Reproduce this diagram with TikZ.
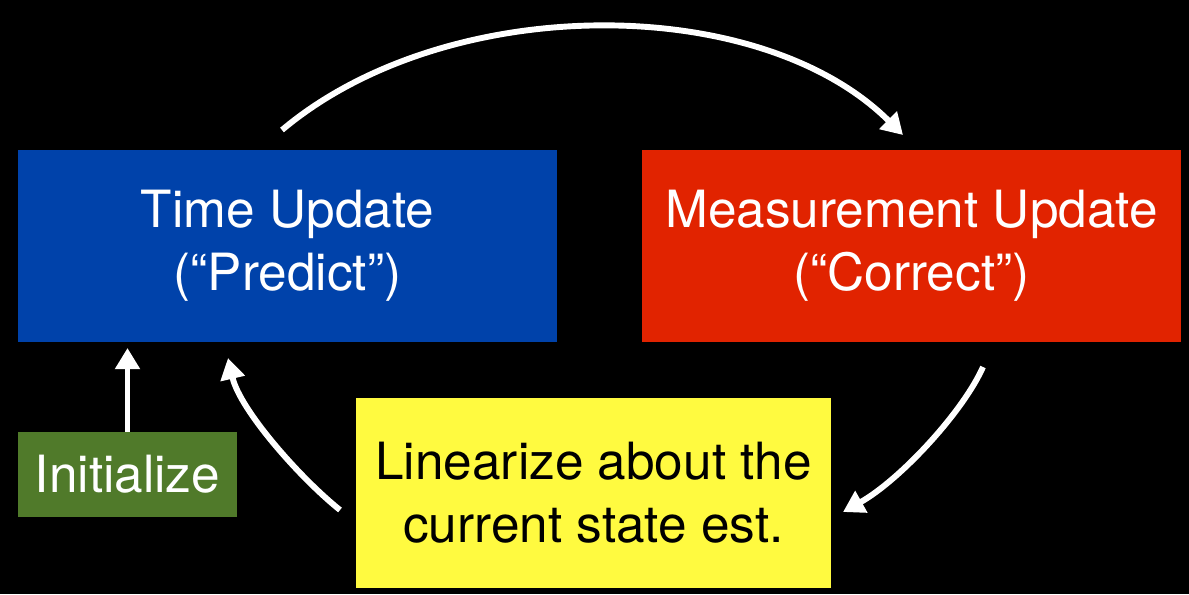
\documentclass[tikz,border=0pt]{standalone}
\usepackage{fontspec}
\setmainfont{TeX Gyre Heros}
\usetikzlibrary{arrows.meta}
\definecolor{tublue}{RGB}{0,66,170}
\definecolor{mured}{RGB}{225,35,0}
\definecolor{ingreen}{RGB}{80,122,42}
\definecolor{linyellow}{RGB}{255,250,64}
\begin{document}
\begin{tikzpicture}[x=0.025cm,y=-0.025cm,
  box/.style={rectangle, inner sep=0pt, align=center, text=white,
    font=\fontsize{36.5}{45}\selectfont},
  flow/.style={white, line width=4.2pt, -{Triangle[length=15pt,width=17pt]}}]
\useasboundingbox (0,0) rectangle (1189,594);
\fill[black] (0,0) rectangle (1189,594);

\node[box, fill=tublue, minimum width=13.475cm, minimum height=4.8cm] (tu) at (287.5,246)
  {Time Update\\(“Predict”)};
\node[box, fill=mured, minimum width=13.475cm, minimum height=4.8cm] (mu) at (911.5,246)
  {Measurement Update\\(“Correct”)};
\node[box, fill=ingreen, minimum width=5.475cm, minimum height=2.125cm] (init) at (127.5,474.5)
  {Initialize};
\node[box, fill=linyellow, text=black, minimum width=11.875cm, minimum height=4.75cm] (lin) at (593.5,493)
  {Linearize about the\\current state est.};

\coordinate (a1) at (282,130);
\coordinate (a2) at (903,135);
\coordinate (b1) at (983,367);
\coordinate (b2) at (843,512);
\coordinate (c1) at (340,510);
\coordinate (c2) at (228,358);
\coordinate (d2) at (127.5,348);

\draw[flow] (a1) .. controls (446,-8) and (759,-8) .. (a2);
\draw[flow] (b1) .. controls (963,412) and (900,480) .. (b2);
\draw[flow] (c1) .. controls (300,478) and (240,410) .. (c2);
\draw[flow] (init.north) -- (d2);
\end{tikzpicture}
\end{document}
